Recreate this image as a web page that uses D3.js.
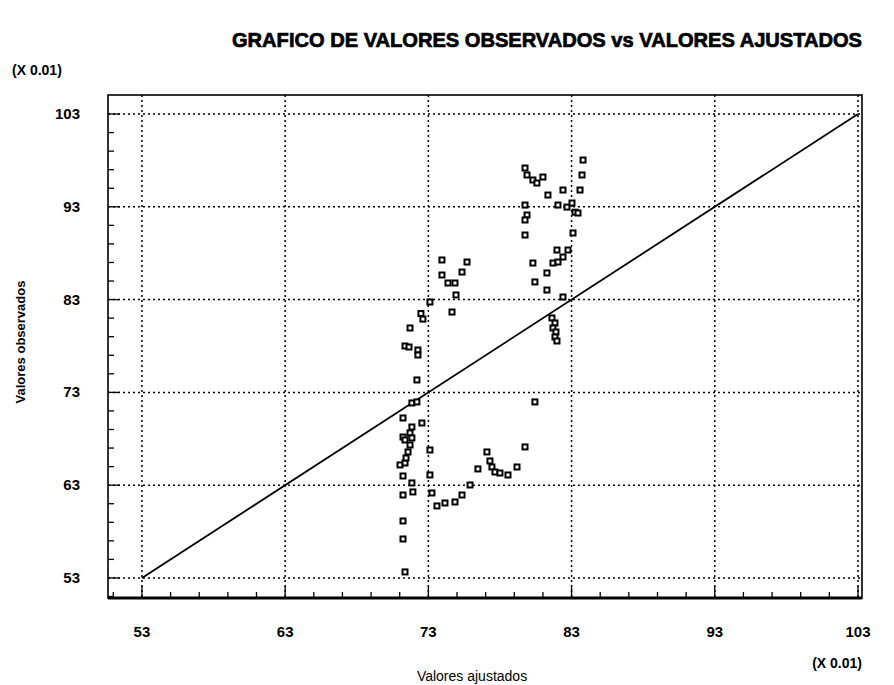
<!DOCTYPE html>
<html><head><meta charset="utf-8">
<script src="https://cdn.jsdelivr.net/npm/d3@7/dist/d3.min.js"></script>
<style>body{margin:0;background:#fff}svg{display:block}text{font-family:"Liberation Sans",Arial,sans-serif;fill:#000}</style>
</head><body>
<script>
const titleText = "GRAFICO DE VALORES OBSERVADOS vs VALORES AJUSTADOS";
const xLabel = "Valores ajustados";
const yLabel = "Valores observados";
const scaleNote = "(X 0.01)";
const tickValues = [53, 63, 73, 83, 93, 103];
const tickLabels = ["53", "63", "73", "83", "93", "103"];
const ajustados = [
 73.11,72.48,72.62,71.72,71.37,71.65,72.27,72.27,72.20,71.85,72.20,71.23,71.85,72.55,71.23,71.72,71.37,71.72,71.85,73.11,
 71.02,71.37,71.23,73.11,71.85,71.92,71.23,73.25,73.60,74.16,74.86,75.35,75.91,71.23,71.23,71.37,71.58,71.44,76.46,77.09,
 77.30,77.44,77.65,78.00,78.56,79.19,79.75,80.44,73.95,75.70,73.95,75.35,74.37,74.86,74.93,74.65,83.80,79.75,79.89,83.73,
 81.00,80.30,80.58,81.35,82.40,83.59,79.75,82.05,82.68,83.03,83.24,83.45,79.89,79.75,79.75,83.10,81.98,82.75,82.40,80.30,
 81.70,82.05,81.28,80.44,81.28,82.40,81.63,81.84,81.70,81.91,81.84,81.98
];
const observados = [
 82.74,81.50,80.90,79.94,78.00,77.89,77.57,77.03,74.34,71.86,71.97,70.24,69.27,69.70,68.19,68.63,67.87,67.33,68.09,66.79,
 65.18,65.39,63.99,64.10,63.24,62.27,61.94,62.16,60.76,61.08,61.19,61.94,63.02,59.14,57.20,53.65,66.58,65.93,64.75,66.58,
 65.61,64.96,64.42,64.31,64.10,64.96,67.12,71.97,87.27,87.05,85.65,85.97,84.79,84.79,83.50,81.66,98.04,97.18,96.43,96.43,
 96.21,95.89,95.56,94.27,94.81,94.81,93.19,93.19,92.97,93.41,92.42,92.33,92.12,91.58,89.96,90.18,88.34,88.34,87.59,86.94,
 86.94,87.05,85.87,84.90,84.03,83.28,81.02,80.48,79.94,79.51,78.97,78.54
];
const refLine = [53, 103];

const W = 894, H = 685;
const frame = {l: 108, r: 862, t: 95, b: 598};
const svg = d3.select("body").append("svg").attr("width", W).attr("height", H);
const x = d3.scaleLinear().domain([50.63, 103.28]).range([frame.l, frame.r]);
const y = d3.scaleLinear().domain([50.84, 105.05]).range([frame.b, frame.t]);

// title
svg.append("text").attr("x", 232).attr("y", 47).attr("font-size", 20).attr("font-weight", 900)
  .attr("stroke", "#000").attr("stroke-width", 0.7)
  .attr("textLength", 630).attr("lengthAdjust", "spacingAndGlyphs").text(titleText);
svg.append("text").attr("x", 12).attr("y", 75).attr("font-size", 14).attr("font-weight", "bold").text(scaleNote);

// gridlines
const g = svg.append("g");
g.selectAll(".vg").data(tickValues).join("line")
  .attr("x1", d => x(d)).attr("x2", d => x(d)).attr("y1", frame.t).attr("y2", frame.b)
  .attr("stroke", "#000").attr("stroke-width", 1.5).attr("stroke-dasharray", "2,3");
g.selectAll(".hg").data(tickValues).join("line")
  .attr("y1", d => y(d)).attr("y2", d => y(d)).attr("x1", frame.l).attr("x2", frame.r)
  .attr("stroke", "#000").attr("stroke-width", 1.5).attr("stroke-dasharray", "2,3");

// minor ticks
const minor = d3.range(51, 104, 2).filter(v => !tickValues.includes(v));
const majorT = tickValues;
svg.append("g").selectAll("line").data(minor.filter(v => x(v) > frame.l && x(v) < frame.r)).join("line")
  .attr("x1", d => x(d)).attr("x2", d => x(d)).attr("y1", frame.b).attr("y2", frame.b - 6)
  .attr("stroke", "#000").attr("stroke-width", 1.3);
svg.append("g").selectAll("line").data(majorT).join("line")
  .attr("x1", d => x(d)).attr("x2", d => x(d)).attr("y1", frame.b).attr("y2", frame.b - 12)
  .attr("stroke", "#000").attr("stroke-width", 1.3);
svg.append("g").selectAll("line").data(minor.filter(v => y(v) > frame.t && y(v) < frame.b)).join("line")
  .attr("y1", d => y(d)).attr("y2", d => y(d)).attr("x1", frame.l).attr("x2", frame.l + 6)
  .attr("stroke", "#000").attr("stroke-width", 1.3);
svg.append("g").selectAll("line").data(majorT).join("line")
  .attr("y1", d => y(d)).attr("y2", d => y(d)).attr("x1", frame.l).attr("x2", frame.l + 12)
  .attr("stroke", "#000").attr("stroke-width", 1.3);

// frame
svg.append("rect").attr("x", frame.l).attr("y", frame.t).attr("width", frame.r - frame.l).attr("height", frame.b - frame.t)
  .attr("fill", "none").attr("stroke", "#000").attr("stroke-width", 1.6);
svg.append("line").attr("x1", frame.l).attr("x2", frame.r).attr("y1", frame.b).attr("y2", frame.b)
  .attr("stroke", "#000").attr("stroke-width", 2.8);

// tick labels
svg.append("g").selectAll("text").data(tickValues).join("text")
  .attr("x", d => x(d)).attr("y", 637).attr("text-anchor", "middle").attr("font-size", 15).attr("font-weight", "bold")
  .text((d, i) => tickLabels[i]);
svg.append("g").selectAll("text").data(tickValues).join("text")
  .attr("x", 80).attr("y", d => y(d) + 5).attr("text-anchor", "end").attr("font-size", 15).attr("font-weight", "bold")
  .text((d, i) => tickLabels[i]);

// axis labels
svg.append("text").attr("x", 472).attr("y", 681).attr("text-anchor", "middle").attr("font-size", 14).text(xLabel);
svg.append("text").attr("x", 862).attr("y", 668).attr("text-anchor", "end").attr("font-size", 14).attr("font-weight", "bold").text(scaleNote);
svg.append("text").attr("transform", "translate(25,342) rotate(-90)").attr("text-anchor", "middle")
  .attr("font-size", 13).attr("font-weight", "bold").text(yLabel);

// reference line
svg.append("line").attr("x1", x(refLine[0])).attr("y1", y(refLine[0])).attr("x2", x(refLine[1])).attr("y2", y(refLine[1]))
  .attr("stroke", "#000").attr("stroke-width", 1.8);

// points
svg.append("g").selectAll("rect").data(ajustados.map((a, i) => [a, observados[i]])).join("rect")
  .attr("x", d => x(d[0]) - 2.5).attr("y", d => y(d[1]) - 2.5).attr("width", 5).attr("height", 5)
  .attr("fill", "#fff").attr("stroke", "#000").attr("stroke-width", 2);
</script>
</body></html>
